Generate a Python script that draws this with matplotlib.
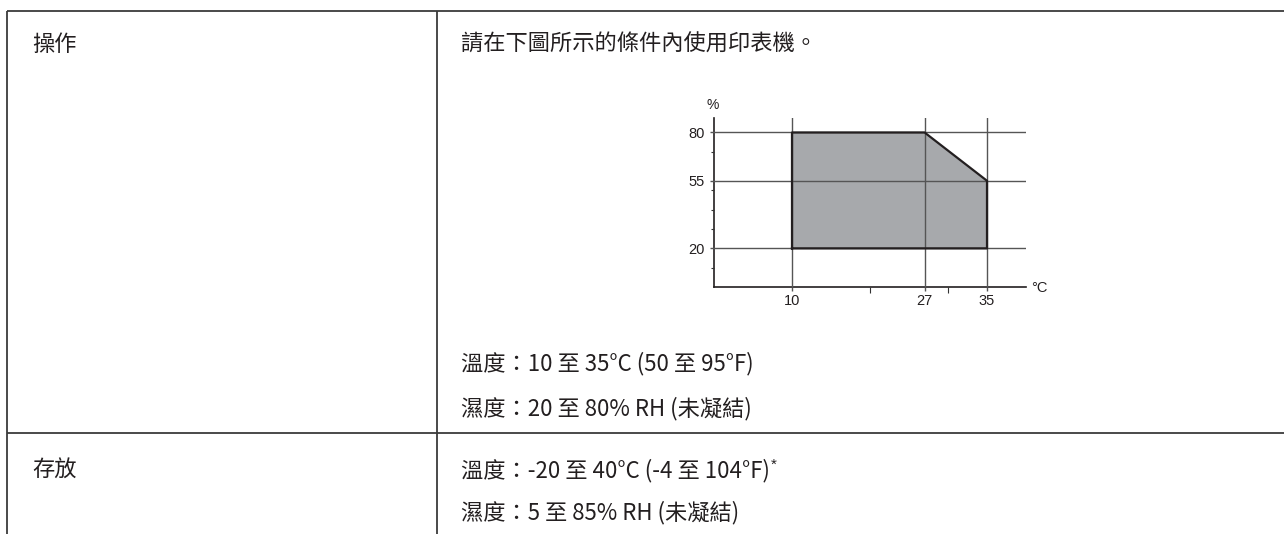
import matplotlib
matplotlib.use("Agg")
import matplotlib.pyplot as plt

# chart data: operating zone (temperature in C, relative humidity in %)
zone_temp = [10, 10, 27, 35, 35]
zone_rh = [20, 80, 80, 55, 20]
temp_ticks = [10, 27, 35]
temp_minor = [20, 30]
rh_ticks = [20, 55, 80]
rh_minor = [10, 30, 40, 50, 70]

# table text
row_names = ["操作", "存放"]
op_intro = "請在下圖所示的條件內使用印表機。"
op_lines = ["溫度：10 至 35°C (50 至 95°F)", "濕度：20 至 80% RH (未凝結)"]
store_lines = ["溫度：-20 至 40°C (-4 至 104°F)", "濕度：5 至 85% RH (未凝結)"]

cjk = ["Noto Sans CJK TC", "DejaVu Sans"]
narrow = ["Liberation Sans Narrow", "Liberation Sans", "DejaVu Sans"]
plt.rcParams["font.family"] = cjk

W, H = 1284, 534
fig = plt.figure(figsize=(W / 100, H / 100), dpi=100)

page = fig.add_axes([0, 0, 1, 1])
page.set_xlim(0, W)
page.set_ylim(H, 0)
page.axis("off")

# table rules
rule = dict(color="#3a3a3a", lw=1.3, solid_capstyle="butt")
page.plot([7, W], [11, 11], **rule)
page.plot([7, W], [433, 433], **rule)
page.plot([7, 7], [11, H], **rule)
page.plot([437, 437], [11, H], **rule)

fs = 16
ink = "#231f20"
page.text(32, 44, row_names[0], fontsize=fs, va="center", color=ink)
page.text(32, 470, row_names[1], fontsize=fs, va="center", color=ink)
page.text(461, 44, op_intro, fontsize=fs, va="center", color=ink)
for y, s in zip([364, 409], op_lines):
    page.text(461, y, s, fontsize=fs, va="center", color=ink)
t = page.text(461, 471, store_lines[0], fontsize=fs, va="center", color=ink)
page.annotate("*", xy=(1, 1), xycoords=t, xytext=(1, 1), textcoords="offset points",
              fontsize=11, va="top", ha="left", color=ink, family=narrow)
page.text(461, 513, store_lines[1], fontsize=fs, va="center", color=ink)

# chart
ax = fig.add_axes([714 / W, (H - 287) / H, 312 / W, 169 / H])
ax.fill(zone_temp, zone_rh, facecolor="#a7a9ac", lw=0, zorder=1)
ax.plot(zone_temp + zone_temp[:1], zone_rh + zone_rh[:1], color=ink, lw=1.6, zorder=3)
ax.set_xlim(0, 40)
ax.set_ylim(0, 87.5)
ax.set_xticks(temp_ticks)
ax.set_yticks(rh_ticks)
ax.set_xticks(temp_minor, minor=True)
ax.set_yticks(rh_minor, minor=True)
ax.set_axisbelow(False)
ax.grid(True, which="major", color="#555555", lw=1.0)
ax.tick_params(which="major", direction="out", length=3, width=1.0, color="#555555",
               labelsize=10.5, labelcolor=ink)
ax.tick_params(axis="x", which="major", pad=2)
ax.tick_params(axis="y", which="major", pad=4)
ax.tick_params(axis="x", which="minor", direction="out", length=4, width=0.8, color="#333333")
ax.tick_params(axis="y", which="minor", direction="out", length=2.5, width=0.8, color="#333333")
for lab in ax.get_xticklabels() + ax.get_yticklabels():
    lab.set_family(narrow)
for side in ["top", "right"]:
    ax.spines[side].set_visible(False)
for side in ["left", "bottom"]:
    ax.spines[side].set_color(ink)
    ax.spines[side].set_linewidth(1.2)
ax.patch.set_alpha(0)

page.text(713, 105, "%", fontsize=10, ha="center", va="center", family=narrow, color=ink)
page.text(1031, 288, "°C", fontsize=10.5, ha="left", va="center", family=narrow, color=ink)

fig.savefig("out.png", dpi=100)
